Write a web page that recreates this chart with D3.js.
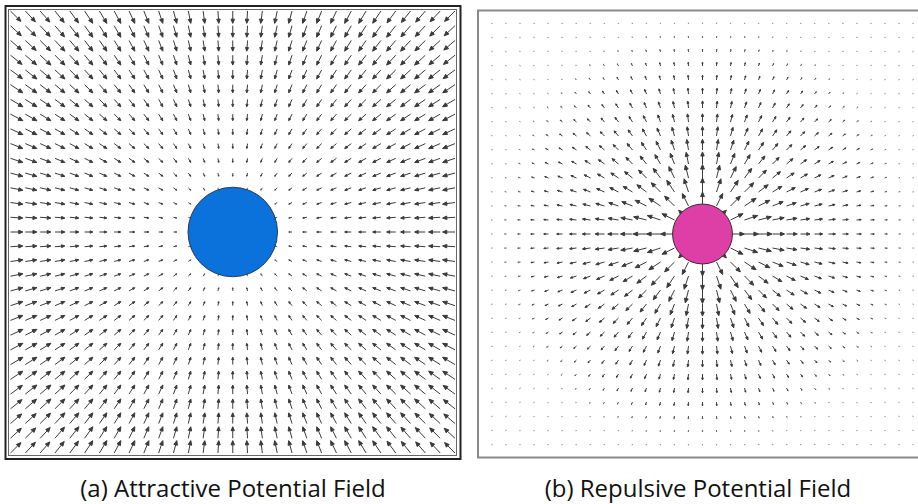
<!DOCTYPE html>
<html>
<head>
<meta charset="utf-8">
<script src="https://cdn.jsdelivr.net/npm/d3@7/dist/d3.min.js"></script>
<style>
  body { margin: 0; background: #fff; }
  svg { display: block; }
  .caption { font-family: "Open Sans", sans-serif; font-size: 24px; fill: #111; }
</style>
</head>
<body>
<div id="chart"></div>
<script>
// grid (31 x 31 nodes, indices 0..30) and field parameters, in grid units
var gridIdx = d3.range(31);
var attrGoal = [15, 15];
var attrRadius = 3.02;       // goal disc
var attrGain = 0.056;        // arrow length per unit of distance
var attrMax = 1.0;           // saturation length
var repObstacle = [15, 15];
var repRadius = 2.14;        // obstacle disc
var repMax = 1.0, repStart = 3.6, repRange = 13.6, repPow = 1.35, repMin = 0.08;
var captions = ["(a) Attractive Potential Field", "(b) Repulsive Potential Field"];
var captionX = [233, 698];

var W = 918, H = 504;
var svg = d3.select("#chart").append("svg").attr("width", W).attr("height", H);

// arrow as one path: shaft + filled head
function arrow(x0, y0, x1, y1) {
  var dx = x1 - x0, dy = y1 - y0, L = Math.sqrt(dx * dx + dy * dy);
  if (L < 0.01) return "";
  var ux = dx / L, uy = dy / L;
  var h = Math.min(0.34 * L, 4.6), w = h * 0.42;
  var bx = x1 - ux * h, by = y1 - uy * h;
  return "M" + x0 + "," + y0 + "L" + bx + "," + by +
    "M" + x1 + "," + y1 + "L" + (bx - uy * w) + "," + (by + ux * w) +
    "L" + (bx + uy * w) + "," + (by - ux * w) + "Z";
}

function points() {
  var pts = [];
  gridIdx.forEach(function (j) { gridIdx.forEach(function (i) { pts.push([i, j]); }); });
  return pts;
}

// colour fades for the tiny far arrows
var shade = d3.scaleLinear().domain([0, 0.25]).range(["#b0b0b0", "#3a3a3a"]).clamp(true);

// ---- (a) attractive ----
var gA = svg.append("g");
var xA = d3.scaleLinear().domain([0, 30]).range([10.5, 455]);
var yA = d3.scaleLinear().domain([0, 30]).range([11, 453]);

gA.append("rect").attr("x", 5.5).attr("y", 6).attr("width", 455).attr("height", 453)
  .attr("fill", "none").attr("stroke", "#222").attr("stroke-width", 2);
gA.append("rect").attr("x", 8.5).attr("y", 9.5).attr("width", 448).attr("height", 446)
  .attr("fill", "none").attr("stroke", "#666").attr("stroke-width", 1);

gA.selectAll("path.arr").data(points()).enter().append("path")
  .attr("class", "arr")
  .each(function (p) {
    var dx = attrGoal[0] - p[0], dy = attrGoal[1] - p[1];
    var d = Math.sqrt(dx * dx + dy * dy);
    var L = d === 0 ? 0 : Math.min(attrGain * d, attrMax);
    var u = d === 0 ? 0 : L * dx / d, v = d === 0 ? 0 : L * dy / d;
    d3.select(this)
      .attr("d", arrow(xA(p[0]), yA(p[1]), xA(p[0] + u), yA(p[1] + v)))
      .attr("stroke", shade(L)).attr("fill", shade(L));
  })
  .attr("stroke-width", 1);

gA.append("circle")
  .attr("cx", xA(attrGoal[0])).attr("cy", yA(attrGoal[1]))
  .attr("r", xA(attrRadius) - xA(0))
  .attr("fill", "#0a72da").attr("stroke", "#2b3a55").attr("stroke-width", 1);

// ---- (b) repulsive ----
var gB = svg.append("g");
var xB = d3.scaleLinear().domain([0, 30]).range([492.5, 912.5]);
var yB = d3.scaleLinear().domain([0, 30]).range([24, 444]);

gB.append("rect").attr("x", 478).attr("y", 10.5).attr("width", 470).attr("height", 447)
  .attr("fill", "none").attr("stroke", "#8a8a8a").attr("stroke-width", 2);

gB.selectAll("path.arr").data(points()).enter().append("path")
  .attr("class", "arr")
  .each(function (p) {
    var dx = p[0] - repObstacle[0], dy = p[1] - repObstacle[1];
    var d = Math.sqrt(dx * dx + dy * dy);
    if (d === 0) return;
    var t = Math.max(0, Math.min(1, 1 - (d - repStart) / repRange));
    var L = Math.max(repMax * Math.pow(t, repPow), repMin);
    var u = L * dx / d, v = L * dy / d;
    d3.select(this)
      .attr("d", arrow(xB(p[0]), yB(p[1]), xB(p[0] + u), yB(p[1] + v)))
      .attr("stroke", shade(L)).attr("fill", shade(L));
  })
  .attr("stroke-width", 1);

gB.append("circle")
  .attr("cx", xB(repObstacle[0])).attr("cy", yB(repObstacle[1]))
  .attr("r", xB(repRadius) - xB(0))
  .attr("fill", "#dd3fa6").attr("stroke", "#3a2a35").attr("stroke-width", 1);

// captions
svg.selectAll("text.caption").data(captions).enter().append("text")
  .attr("class", "caption")
  .attr("x", function (d, i) { return captionX[i]; })
  .attr("y", 497)
  .attr("text-anchor", "middle")
  .text(function (d) { return d; });
</script>
</body>
</html>
